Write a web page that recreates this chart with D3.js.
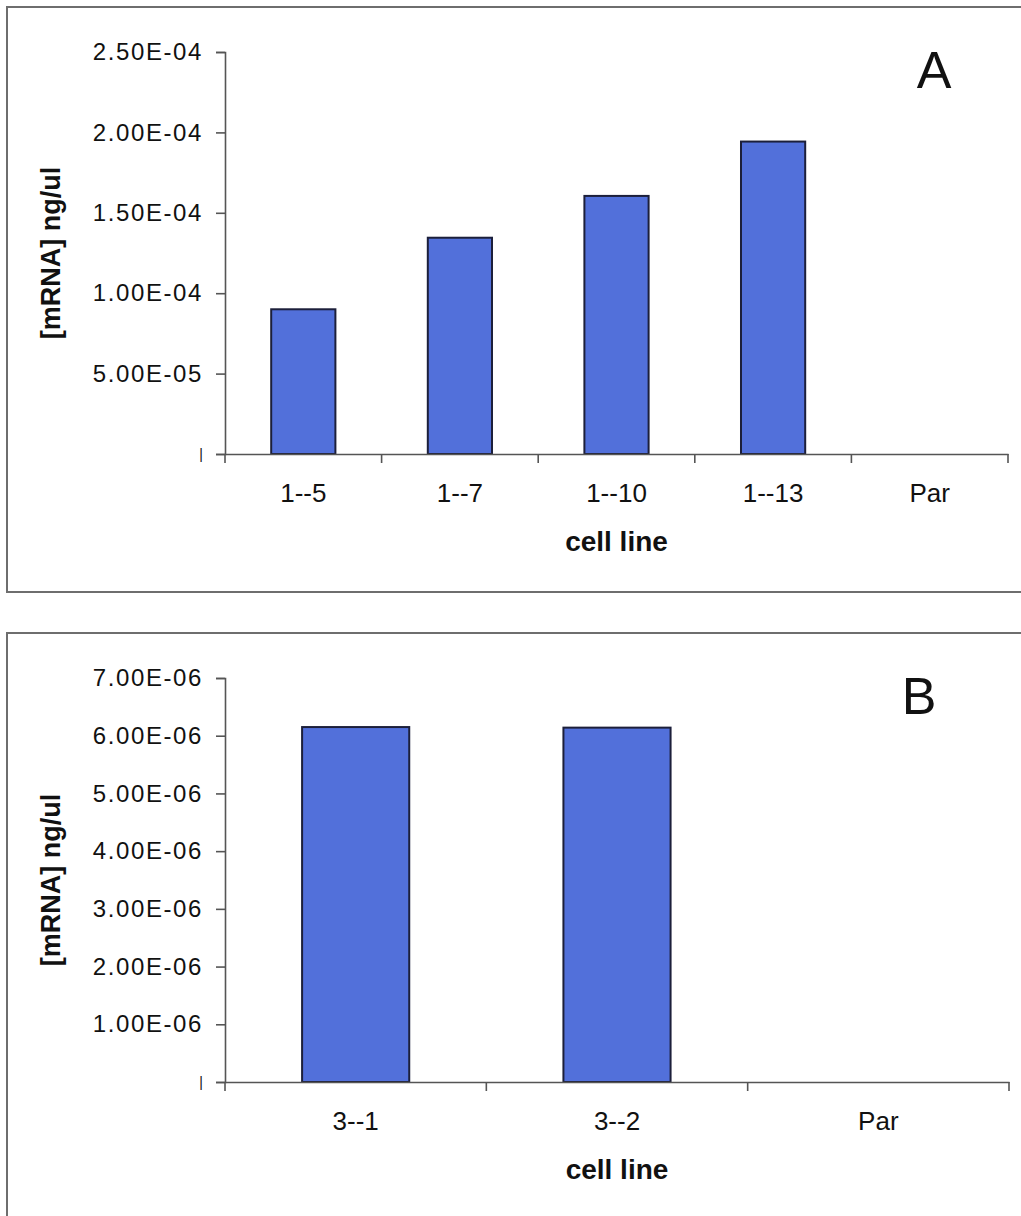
<!DOCTYPE html>
<html>
<head>
<meta charset="utf-8">
<script src="https://cdn.jsdelivr.net/npm/d3@7"></script>
<style>
  body { margin: 0; background: #fff; }
  svg { display: block; }
</style>
</head>
<body>
<div id="chart"></div>
<script>
// panel A: mRNA by cell line
const cellLinesA = ["1--5", "1--7", "1--10", "1--13", "Par"];
const valuesA = [9.0e-5, 1.345e-4, 1.605e-4, 1.943e-4, null];
const ticksA = [0, 5e-5, 1e-4, 1.5e-4, 2e-4, 2.5e-4];

// panel B
const cellLinesB = ["3--1", "3--2", "Par"];
const valuesB = [6.15e-6, 6.14e-6, null];
const ticksB = [0, 1e-6, 2e-6, 3e-6, 4e-6, 5e-6, 6e-6, 7e-6];

const W = 1021, H = 1216;
const FONT = "'Liberation Sans', Arial, sans-serif";
const barFill = "#5270da";

const svg = d3.select("#chart").append("svg")
  .attr("width", W)
  .attr("height", H)
  .attr("font-family", FONT);

function fmt(v) {
  if (v === 0) return "|";
  const [m, e] = v.toExponential(2).split("e");
  const ex = Math.abs(+e);
  return m + "E" + (+e < 0 ? "-" : "+") + String(ex).padStart(2, "0");
}

function panel(opts) {
  const { cats, vals, ticks, box, x0, x1, yTop, yZero, letter, letterPos } = opts;

  // outer frame
  svg.append("rect")
    .attr("x", box.x).attr("y", box.y)
    .attr("width", box.w).attr("height", box.h)
    .attr("fill", "none")
    .attr("stroke", "#6e6e6e")
    .attr("stroke-width", 2);

  const x = d3.scaleBand()
    .domain(cats)
    .range([x0, x1]);

  const y = d3.scaleLinear()
    .domain([0, d3.max(ticks)])
    .range([yZero, yTop]);

  // bars
  svg.append("g")
    .selectAll("rect")
    .data(cats.map((c, i) => ({ c, v: vals[i] })).filter(d => d.v != null))
    .enter().append("rect")
    .attr("x", d => x(d.c) + x.bandwidth() * 0.295)
    .attr("width", x.bandwidth() * 0.41)
    .attr("y", d => y(d.v))
    .attr("height", d => y(0) - y(d.v))
    .attr("fill", barFill)
    .attr("stroke", "#1c1f3a")
    .attr("stroke-width", 2);

  // y axis
  const yAxis = svg.append("g")
    .attr("transform", `translate(${x0},0)`)
    .call(d3.axisLeft(y).tickValues(ticks).tickFormat(fmt).tickSize(9).tickPadding(13))
    .attr("font-family", FONT);
  yAxis.select(".domain").attr("stroke", "#555").attr("stroke-width", 1.6);
  yAxis.selectAll(".tick line").attr("stroke", "#555").attr("stroke-width", 1.6);
  yAxis.selectAll("text")
    .attr("fill", "#111")
    .style("letter-spacing", d => d === 0 ? "0px" : "1.6px")
    .style("font-size", d => d === 0 ? "14px" : "24px");

  // x axis: line, boundary ticks, centred labels
  const xAxis = svg.append("g")
    .attr("transform", `translate(0,${yZero})`)
    .call(d3.axisBottom(x).tickSize(0).tickPadding(30))
    .attr("font-family", FONT);
  xAxis.select(".domain").attr("stroke", "#555").attr("stroke-width", 1.6);
  xAxis.selectAll("text")
    .attr("fill", "#111")
    .style("font-size", "26px");

  const edges = cats.map(c => x(c)).concat([x.range()[1]]);
  xAxis.selectAll("line.edge")
    .data(edges)
    .enter().append("line")
    .attr("class", "edge")
    .attr("x1", d => d).attr("x2", d => d)
    .attr("y1", 0).attr("y2", 9)
    .attr("stroke", "#555")
    .attr("stroke-width", 1.6);

  // axis titles
  svg.append("text")
    .attr("x", (x0 + x1) / 2)
    .attr("y", yZero + 97)
    .attr("text-anchor", "middle")
    .style("font-size", "28px")
    .style("font-weight", "bold")
    .attr("fill", "#111")
    .text("cell line");

  svg.append("text")
    .attr("transform", `translate(60,${(yTop + yZero) / 2}) rotate(-90)`)
    .attr("text-anchor", "middle")
    .style("font-size", "27px")
    .style("font-weight", "bold")
    .attr("fill", "#111")
    .text("[mRNA] ng/ul");

  // panel letter
  svg.append("text")
    .attr("x", letterPos[0])
    .attr("y", letterPos[1])
    .attr("text-anchor", "middle")
    .attr("dy", "0.36em")
    .style("font-size", "52px")
    .attr("fill", "#111")
    .text(letter);
}

panel({
  cats: cellLinesA, vals: valuesA, ticks: ticksA,
  box: { x: 7, y: 7, w: 1030, h: 585 },
  x0: 225, x1: 1008, yTop: 52, yZero: 454,
  letter: "A", letterPos: [934, 69]
});

panel({
  cats: cellLinesB, vals: valuesB, ticks: ticksB,
  box: { x: 7, y: 633, w: 1030, h: 600 },
  x0: 225, x1: 1009, yTop: 678, yZero: 1082,
  letter: "B", letterPos: [919, 695]
});
</script>
</body>
</html>
